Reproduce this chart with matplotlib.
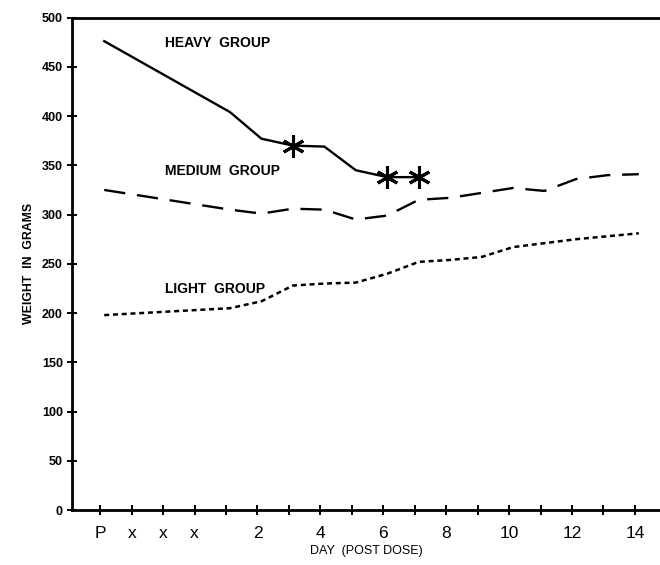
import matplotlib
matplotlib.use("Agg")
import matplotlib.pyplot as plt
import matplotlib.transforms as mtransforms

plt.rcParams["font.family"] = ["Liberation Sans", "DejaVu Sans"]

# day index: -3 = pre-dose (P), -2..0 = the "x" days
tick_days = list(range(-3, 15))
tick_labels = ["P", "x", "x", "x", "", "2", "", "4", "", "6", "", "8",
               "", "10", "", "12", "", "14"]

heavy_days = [-3, 1, 2, 3, 4, 5, 6, 7]
heavy_wt = [476, 404, 377, 370, 369, 345, 338, 338]
heavy_sig_days = [3, 6, 7]
heavy_sig_wt = [370, 338, 338]

medium_days = [-3, 1, 2, 3, 4, 5, 6, 7, 8, 9, 10, 11, 12, 13, 14]
medium_wt = [325, 305, 301, 306, 305, 295, 299, 315, 317, 322, 327, 324, 336, 340, 341]

light_days = [-3, 1, 2, 3, 4, 5, 6, 7, 8, 9, 10, 11, 12, 13, 14]
light_wt = [198, 205, 212, 228, 230, 231, 240, 252, 254, 257, 267, 271, 275, 278, 281]

fig = plt.figure(figsize=(6.6, 5.65), dpi=100)
ax = fig.add_axes([0.109, 0.097, 0.891, 0.872])

# curves in the original sit a few pixels right of the ticks
shift = ax.transData + mtransforms.ScaledTranslation(4 / 100, 0, fig.dpi_scale_trans)

ax.plot(heavy_days, heavy_wt, color="black", lw=1.7, transform=shift)
ax.plot(heavy_sig_days, heavy_sig_wt, ls="none", marker=(6, 2, 0),
        ms=16, mew=2.2, color="black", transform=shift)
ax.plot(medium_days, medium_wt, color="black", lw=1.7, dashes=(9, 5),
        transform=shift)
ax.plot(light_days, light_wt, color="black", lw=1.8, dashes=(2.0, 1.5),
        transform=shift)

lab = dict(fontsize=10, fontweight="bold", ha="left", va="center")
ax.text(-0.95, 474, "HEAVY  GROUP", **lab)
ax.text(-0.95, 344, "MEDIUM  GROUP", **lab)
ax.text(-0.95, 224, "LIGHT  GROUP", **lab)

ax.set_xlim(-3.9, 14.8)
ax.set_ylim(0, 500)
ax.set_xticks(tick_days)
ax.set_xticklabels(tick_labels, fontsize=12.5)
ax.set_yticks(range(0, 501, 50))
ax.set_yticklabels([str(v) for v in range(0, 501, 50)], fontsize=9,
                   fontweight="bold")
ax.tick_params(direction="inout", length=7, width=1.4, pad=3)
ax.tick_params(axis="x", pad=8)

for s in ["left", "bottom", "top"]:
    ax.spines[s].set_linewidth(2.0)
ax.spines["right"].set_visible(False)

ax.set_xlabel("DAY  (POST DOSE)", fontsize=9, labelpad=3)
ax.set_ylabel("WEIGHT  IN  GRAMS", fontsize=8.8, fontweight="bold", labelpad=5)

fig.savefig("out.png", dpi=100)
